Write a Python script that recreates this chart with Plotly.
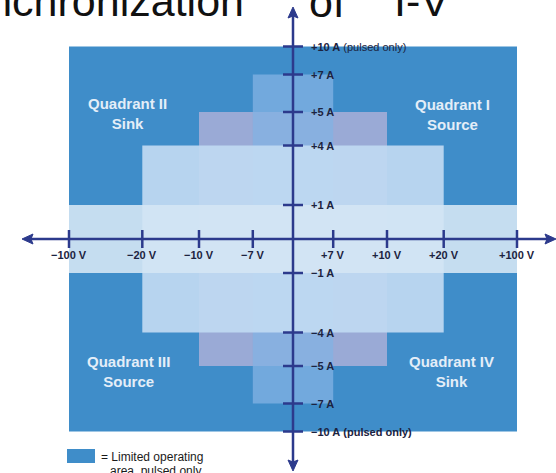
import numpy as np
import plotly.graph_objects as go

W, H = 556, 473

# Levels marked along the two axes
VOLT_TICKS = [-100, -20, -10, -7, 7, 10, 20, 100]
CURR_TICKS = [10, 7, 5, 4, 1, -1, -4, -5, -7, -10]
CURR_NOTES = {10: "(pulsed only)", -10: "(pulsed only)"}

# Operating envelopes (symmetric +/-V, +/-I limits), drawn back to front
ENV_V = [100, 10, 7, 20, 100]
ENV_I = [10, 5, 7, 4, 1]
ENV_FILL = [
    "rgb(63,141,201)",
    "rgb(154,170,214)",
    "rgba(130,178,227,0.76)",
    "rgba(191,217,241,0.94)",
    "rgba(212,229,244,0.9)",
]

QUADRANTS = ["Quadrant II<br>Sink", "Quadrant I<br>Source",
             "Quadrant III<br>Source", "Quadrant IV<br>Sink"]

FONT = "Liberation Sans, Arial, sans-serif"
AXIS_COLOR = "#2c3a8c"
LABEL_COLOR = "#1c2340"

# Non-linear (compressed) scales for the two axes, in screen units
V_KNOTS = ([0, 7, 10, 20, 100], [0, 40.2, 94, 150.7, 224])
I_KNOTS = ([0, 1, 4, 5, 7, 10], [0, 34, 93.5, 127, 164.5, 192.5])


def vx(v):
    return float(np.sign(v) * np.interp(abs(v), *V_KNOTS))


def iy(i):
    return float(np.sign(i) * np.interp(abs(i), *I_KNOTS))


# origin of the chart inside the page
X0, Y0 = 293, 239


def px(col):
    return col - X0


def py(row):
    return Y0 - row


fig = go.Figure()
shapes = []
ann = []

# operating envelopes
for v, i, c in zip(ENV_V, ENV_I, ENV_FILL):
    shapes.append(dict(type="rect", xref="x", yref="y",
                       x0=vx(-v), x1=vx(v), y0=iy(-i), y1=iy(i),
                       fillcolor=c, line=dict(width=0), layer="below"))

# axes with arrowheads
shapes.append(dict(type="line", x0=px(27), x1=px(551), y0=0, y1=0,
                   line=dict(color=AXIS_COLOR, width=2.5)))
shapes.append(dict(type="line", x0=0, x1=0, y0=py(13), y1=py(466),
                   line=dict(color=AXIS_COLOR, width=2.5)))
arrows = [
    f"M {px(22)} 0 L {px(33)} 5 L {px(31)} 0 L {px(33)} -5 Z",
    f"M {px(556)} 0 L {px(545)} 5 L {px(547)} 0 L {px(545)} -5 Z",
    f"M 0 {py(7)} L 5 {py(18)} L 0 {py(16)} L -5 {py(18)} Z",
    f"M 0 {py(471)} L 5 {py(460)} L 0 {py(462)} L -5 {py(460)} Z",
]
for p in arrows:
    shapes.append(dict(type="path", path=p, fillcolor=AXIS_COLOR,
                       line=dict(color=AXIS_COLOR, width=1)))

# voltage ticks and labels
for v in VOLT_TICKS:
    x = vx(v)
    shapes.append(dict(type="line", x0=x, x1=x, y0=-9, y1=9,
                       line=dict(color=AXIS_COLOR, width=2.5)))
    sign = "+" if v > 0 else "\u2212"
    ann.append(dict(x=x, y=-16, text=f"<b>{sign}{abs(v)} V</b>",
                    xanchor="center", yanchor="middle", showarrow=False,
                    font=dict(family=FONT, size=11, color=LABEL_COLOR)))

# current ticks and labels
for i in CURR_TICKS:
    y = iy(i)
    shapes.append(dict(type="line", x0=-10, x1=10, y0=y, y1=y,
                       line=dict(color=AXIS_COLOR, width=2.5)))
    sign = "+" if i > 0 else "\u2212"
    txt = f"<b>{sign}{abs(i)} A</b>"
    if i in CURR_NOTES:
        note = CURR_NOTES[i]
        txt += f" <b>{note}</b>" if i < 0 else f" {note}"
    ann.append(dict(x=16, y=y, text=txt, xanchor="left", yanchor="middle",
                    showarrow=False,
                    font=dict(family=FONT, size=11, color=LABEL_COLOR)))

# quadrant names
quad_pos = [(127, 113), (452, 114), (128, 371), (451, 371)]
for t, (cx, cy) in zip(QUADRANTS, quad_pos):
    ann.append(dict(x=px(cx), y=py(cy), text=f"<b>{t}</b>",
                    xanchor="center", yanchor="middle", showarrow=False,
                    font=dict(family=FONT, size=15, color="#e4eef8")))

# key
shapes.append(dict(type="rect", x0=px(67), x1=px(95), y0=py(463), y1=py(449),
                   fillcolor=ENV_FILL[0], line=dict(width=0)))
ann.append(dict(x=px(99), y=py(457), text="= Limited operating",
                xanchor="left", yanchor="middle", showarrow=False,
                font=dict(family=FONT, size=12, color="#1a1a1a")))
ann.append(dict(x=px(108), y=py(471), text="area, pulsed only",
                xanchor="left", yanchor="middle", showarrow=False,
                font=dict(family=FONT, size=12, color="#1a1a1a")))

# heading, running off the top of the page
for txt, col, anchor in [("Synchronization", 246, "right"),
                         ("of", 307, "left"), ("I-V", 392, "left")]:
    ann.append(dict(x=px(col), y=py(27.5), text=txt, xanchor=anchor,
                    yanchor="bottom", showarrow=False,
                    font=dict(family=FONT, size=43, color="#111111")))

fig.update_layout(
    width=W, height=H,
    margin=dict(l=0, r=0, t=0, b=0),
    paper_bgcolor="white", plot_bgcolor="white",
    xaxis=dict(range=[px(0), px(W)], visible=False, fixedrange=True),
    yaxis=dict(range=[py(H), py(0)], visible=False, fixedrange=True),
    shapes=shapes, annotations=ann, showlegend=False,
)

fig.write_html("out.html")
